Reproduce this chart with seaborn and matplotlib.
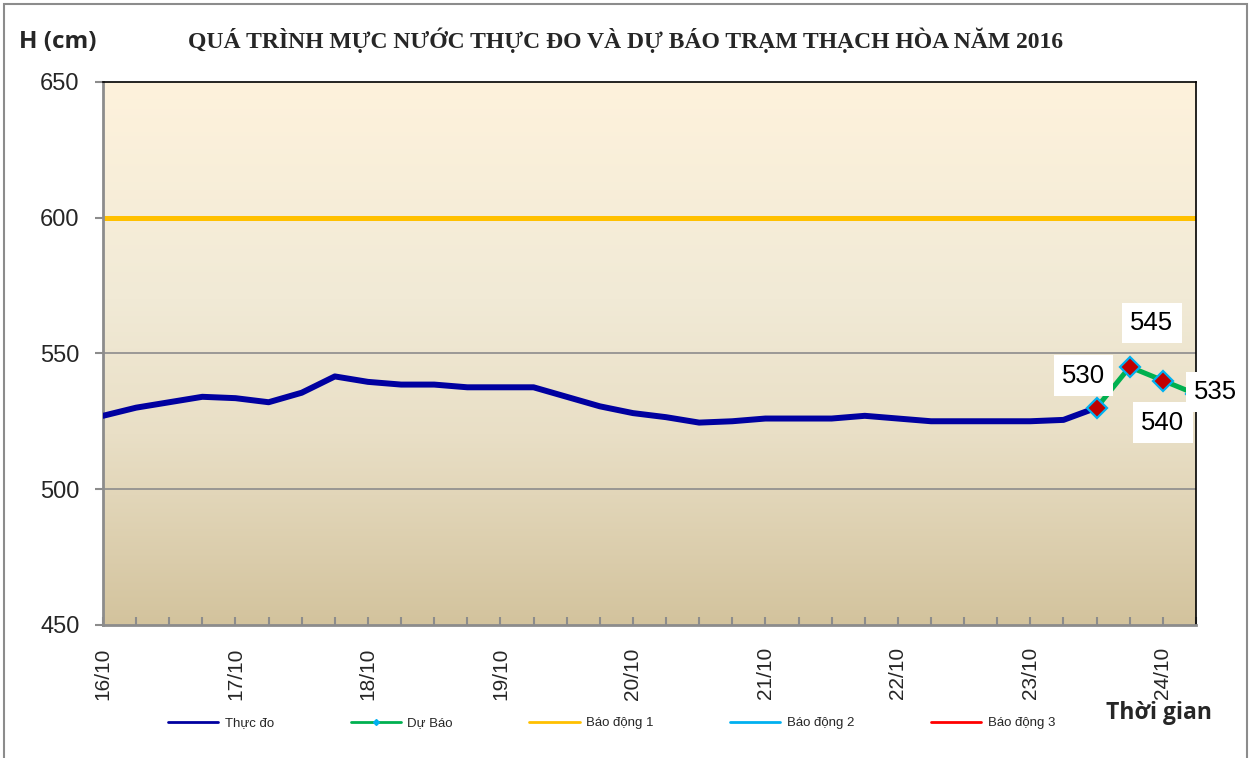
import numpy as np
import pandas as pd
import matplotlib.pyplot as plt
import seaborn as sns
from matplotlib.lines import Line2D
from matplotlib.colors import LinearSegmentedColormap

# 6-hourly steps, 16/10 00h .. 24/10 06h
steps = list(range(34))
day_labels = ['16/10', '17/10', '18/10', '19/10', '20/10', '21/10', '22/10', '23/10', '24/10']
observed = [527, 530, 532, 534, 533.5, 532, 535.5, 541.5, 539.5, 538.5, 538.5,
            537.5, 537.5, 537.5, 534, 530.5, 528, 526.5, 524.5, 525, 526,
            526, 526, 527, 526, 525, 525, 525, 525, 525.5, 530]
forecast_steps = [30, 31, 32, 33]
forecast = [530, 545, 540, 535]
alarm_1 = 600
legend_names = ['Thực đo', 'Dự Báo', 'Báo động 1', 'Báo động 2', 'Báo động 3']

# styles
c_obs = '#0000A0'
c_fc = '#00B050'
c_bd1 = '#FFC000'
c_bd2 = '#00B0F0'
c_bd3 = '#FF0000'
label_offsets = [(-13, 32), (22, 44), (0, -42), (20, 2)]

sns.set_theme(style='white')
plt.rcParams['font.family'] = ['Liberation Sans', 'DejaVu Sans']

df_obs = pd.DataFrame({'step': steps[:len(observed)], 'H': observed})
df_fc = pd.DataFrame({'step': forecast_steps, 'H': forecast})

fig = plt.figure(figsize=(12.56, 7.58), dpi=100)
ax = fig.add_axes([0.082, 0.1755, 0.8702, 0.7167])

# gradient background
cmap = LinearSegmentedColormap.from_list(
    'bg', [(0, '#D3C39D'), (0.35, '#E9DFC6'), (0.6, '#F1EAD6'), (1, '#FEF2DC')])
ax.imshow(np.linspace(1, 0, 256).reshape(-1, 1), cmap=cmap, aspect='auto',
          extent=[0, 1, 0, 1], transform=ax.transAxes, zorder=0)

for v in [500, 550, 600]:
    ax.axhline(v, color='#8C8C8C', lw=1.2, zorder=1)
ax.axhline(alarm_1, color=c_bd1, lw=3.6, zorder=2)

sns.lineplot(data=df_obs, x='step', y='H', ax=ax, color=c_obs, lw=4.3,
             zorder=3, solid_joinstyle='round', solid_capstyle='round')
sns.lineplot(data=df_fc, x='step', y='H', ax=ax, color=c_fc, lw=3.6, zorder=4,
             marker='D', markersize=10, markerfacecolor='#C00000',
             markeredgecolor=c_bd2, markeredgewidth=1.6, solid_joinstyle='round')

for x, v, off in zip(forecast_steps, forecast, label_offsets):
    ax.annotate(str(v), (x, v), xytext=off, textcoords='offset pixels',
                ha='center', va='center', fontsize=18.5, color='black',
                bbox=dict(boxstyle='square,pad=0.32', fc='white', ec='none'),
                annotation_clip=False, zorder=6)

ax.set_xlim(0, 33)
ax.set_ylim(450, 650)
ax.set_yticks([450, 500, 550, 600, 650])
ax.set_xticks(list(range(0, 33, 4)))
ax.set_xticklabels(day_labels, rotation=90, fontsize=15)
ax.set_xticks(steps, minor=True)
ax.tick_params(axis='y', labelsize=17, length=6, width=1.5, color='#8C8C8C',
               direction='out', left=True, pad=11)
ax.tick_params(axis='x', which='both', length=6, width=1.5, color='#8C8C8C',
               direction='in', bottom=True, pad=16)
ax.set_xlabel('')
ax.set_ylabel('')
for s in ['left', 'bottom']:
    ax.spines[s].set_color('#8C8C8C')
    ax.spines[s].set_linewidth(2)
for s in ['top', 'right']:
    ax.spines[s].set_color('black')
    ax.spines[s].set_linewidth(1.2)

fig.text(0.498, 0.947, 'QUÁ TRÌNH MỰC NƯỚC THỰC ĐO VÀ DỰ BÁO TRẠM THẠCH HÒA NĂM 2016',
         ha='center', va='center', fontsize=17, fontweight='bold',
         family=['Liberation Serif', 'DejaVu Serif'])
fig.text(0.046, 0.945, 'H (cm)', ha='center', va='center', fontsize=17.5,
         fontweight='bold', family=['Open Sans', 'DejaVu Sans'])
fig.text(0.9225, 0.059, 'Thời gian', ha='center', va='center', fontsize=16.5,
         fontweight='bold', family=['Open Sans', 'DejaVu Sans'])

handles = [Line2D([], [], color=c_obs, lw=2),
           Line2D([], [], color=c_fc, lw=2, marker='D', markersize=3,
                  markerfacecolor=c_bd2, markeredgecolor=c_bd2),
           Line2D([], [], color=c_bd1, lw=2),
           Line2D([], [], color=c_bd2, lw=2),
           Line2D([], [], color=c_bd3, lw=2)]
fig.legend(handles, legend_names, loc='center', ncol=5,
           bbox_to_anchor=(0.487, 0.046), frameon=False, handlelength=3.8,
           columnspacing=5.8, handletextpad=0.5,
           prop={'family': ['Liberation Sans Narrow', 'Liberation Sans'], 'size': 9.5})

fig.add_artist(plt.Rectangle((0.003, -0.1), 0.9898, 1.0947, transform=fig.transFigure,
                             fill=False, ec='#8C8C8C', lw=1.5))

fig.savefig('out.png', dpi=100)
